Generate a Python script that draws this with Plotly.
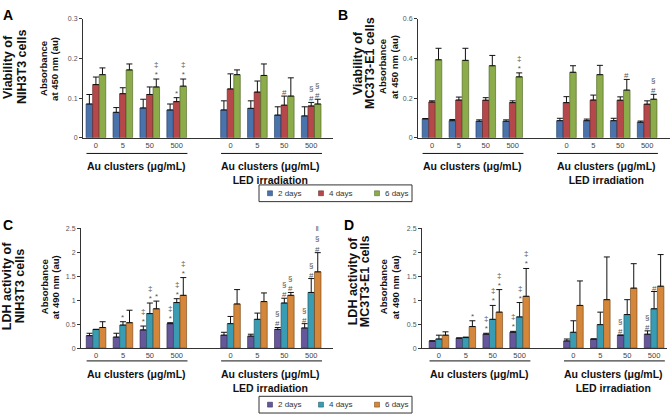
import plotly.graph_objects as go

W, H = 670, 417

# ---------------- data ----------------
conc_labels = ["0", "5", "50", "500", "0", "5", "50", "500"]
positions = [0, 1, 2, 3, 5, 6, 7, 8]
days = ["2 days", "4 days", "6 days"]

# Panel A: viability NIH3T3 (mean, upper error bar top)
A_mean = [
    [0.085, 0.064, 0.075, 0.070, 0.070, 0.074, 0.057, 0.055],
    [0.134, 0.111, 0.109, 0.091, 0.123, 0.115, 0.082, 0.080],
    [0.159, 0.171, 0.128, 0.130, 0.159, 0.157, 0.105, 0.085],
]
A_top = [
    [0.109, 0.076, 0.097, 0.085, 0.093, 0.093, 0.078, 0.078],
    [0.153, 0.126, 0.128, 0.101, 0.161, 0.143, 0.105, 0.089],
    [0.176, 0.186, 0.148, 0.148, 0.171, 0.186, 0.151, 0.097],
]
A_marks = [
    ["", "", "", "", "", "", "", ""],
    ["", "", "", "*", "", "", "#", "#§"],
    ["", "", "*‡", "*‡", "", "", "", "#§"],
]

# Panel B: viability MC3T3-E1
B_mean = [
    [0.095, 0.086, 0.083, 0.083, 0.086, 0.086, 0.086, 0.078],
    [0.180, 0.190, 0.189, 0.177, 0.177, 0.190, 0.189, 0.169],
    [0.393, 0.390, 0.363, 0.307, 0.330, 0.318, 0.240, 0.194],
]
B_top = [
    [0.097, 0.092, 0.090, 0.090, 0.098, 0.094, 0.098, 0.084],
    [0.186, 0.205, 0.202, 0.186, 0.207, 0.215, 0.206, 0.186],
    [0.451, 0.451, 0.415, 0.327, 0.363, 0.365, 0.294, 0.219],
]
B_marks = [
    ["", "", "", "", "", "", "", ""],
    ["", "", "", "", "", "", "", ""],
    ["", "", "", "*‡", "", "", "#", "#§"],
]

# Panel C: LDH NIH3T3
C_mean = [
    [0.26, 0.23, 0.38, 0.51, 0.27, 0.25, 0.39, 0.42],
    [0.39, 0.48, 0.72, 0.95, 0.51, 0.60, 0.94, 1.16],
    [0.43, 0.53, 0.82, 1.10, 0.92, 0.97, 1.10, 1.59],
]
C_top = [
    [0.31, 0.31, 0.46, 0.53, 0.33, 0.29, 0.43, 0.51],
    [0.39, 0.55, 0.94, 1.03, 0.66, 0.73, 1.04, 1.45],
    [0.55, 0.79, 0.98, 1.47, 1.22, 1.15, 1.16, 1.99],
]
C_marks = [
    ["", "", "*‡", "*‡", "", "", "#§", "#§"],
    ["", "*", "*‡", "*‡", "", "", "#§", "#§"],
    ["", "", "*", "*‡", "", "", "#§", "#§‖"],
]

# Panel D: LDH MC3T3-E1
D_mean = [
    [0.15, 0.21, 0.29, 0.33, 0.15, 0.19, 0.27, 0.29],
    [0.19, 0.22, 0.60, 0.65, 0.33, 0.49, 0.70, 0.82],
    [0.27, 0.45, 0.75, 1.08, 0.89, 1.01, 1.25, 1.29],
]
D_top = [
    [0.15, 0.21, 0.31, 0.35, 0.19, 0.19, 0.27, 0.36],
    [0.27, 0.23, 0.89, 0.95, 0.57, 0.75, 1.01, 1.18],
    [0.34, 0.57, 1.22, 1.66, 1.40, 1.90, 1.76, 1.95],
]
D_marks = [
    ["", "", "*‡", "*‡", "", "", "#§", "#§"],
    ["", "", "*‡", "*‡", "", "", "", "#"],
    ["", "*", "*‡", "*‡", "", "", "", ""],
]

colors_top = ["#4a72ab", "#b5484a", "#8cab4a"]
lines_top = ["#1f3a63", "#5e1f20", "#485e1f"]
colors_bot = ["#65579a", "#3a9cb3", "#d4863a"]
lines_bot = ["#2e2550", "#174f5c", "#6e3f12"]

BARGAP = 0.27
FONT = "Liberation Sans, Arial, sans-serif"

panels = [
    dict(key="A", mean=A_mean, top=A_top, marks=A_marks, colors=colors_top, lines=lines_top,
         xpx=(83, 333), xr=(-0.48, 8.81), ypx=(136, 15), yr=(0, 0.3),
         tickvals=[0, 0.1, 0.2, 0.3], ticktext=["0", "0.1", "0.2", "0.3"],
         letter_px=(1, 1), t1="Viability of", t2="NIH3T3 cells", t1x=8, t2x=22,
         a1="Absorbance", a2="at 450 nm (au)", a1x=44, a2x=55, tcy=64, acy=66,
         line_y=152, label_y=157),
    dict(key="B", mean=B_mean, top=B_top, marks=B_marks, colors=colors_top, lines=lines_top,
         xpx=(418, 670), xr=(-0.52, 8.85), ypx=(136, 15), yr=(0, 0.6),
         tickvals=[0, 0.2, 0.4, 0.6], ticktext=["0", "0.2", "0.4", "0.6"],
         letter_px=(336, 1), t1="Viability of", t2="MC3T3-E1 cells", t1x=358, t2x=370,
         a1="Absorbance", a2="at 450 nm (au)", a1x=383, a2x=395, tcy=60, acy=64,
         line_y=152, label_y=157),
    dict(key="C", mean=C_mean, top=C_top, marks=C_marks, colors=colors_bot, lines=lines_bot,
         xpx=(81, 333), xr=(-0.56, 8.81), ypx=(350, 228), yr=(0, 2.5),
         tickvals=[0, 0.5, 1, 1.5, 2, 2.5], ticktext=["0", "0.5", "1", "1.5", "2", "2.5"],
         letter_px=(1, 215), t1="LDH activity of", t2="NIH3T3 cells", t1x=7, t2x=20,
         a1="Absorbance", a2="at 490 nm (au)", a1x=44, a2x=55, tcy=287, acy=288,
         line_y=363, label_y=368),
    dict(key="D", mean=D_mean, top=D_top, marks=D_marks, colors=colors_bot, lines=lines_bot,
         xpx=(422, 667), xr=(-0.63, 8.48), ypx=(350, 228), yr=(0, 2.5),
         tickvals=[0, 0.5, 1, 1.5, 2, 2.5], ticktext=["0", "0.5", "1", "1.5", "2", "2.5"],
         letter_px=(342, 215), t1="LDH activity of", t2="MC3T3-E1 cells", t1x=353, t2x=365,
         a1="Absorbance", a2="at 490 nm (au)", a1x=383, a2x=395, tcy=282, acy=288,
         line_y=363, label_y=368),
]

fig = go.Figure()
annotations = []
shapes = []


def px_x(p):
    return p / W


def px_y(p):
    return 1 - p / H


bw = (1 - BARGAP) / 3

for i, P in enumerate(panels):
    n = "" if i == 0 else str(i + 1)
    xa, ya = "x" + n, "y" + n
    for k in range(3):
        plus = [t - m for t, m in zip(P["top"][k], P["mean"][k])]
        fig.add_trace(go.Bar(
            x=positions, y=P["mean"][k], name=days[k], showlegend=False,
            marker=dict(color=P["colors"][k], line=dict(color=P["lines"][k], width=0.6)),
            error_y=dict(type="data", array=plus, arrayminus=[0] * len(plus), symmetric=False,
                         color="#111111", thickness=1, width=3),
            xaxis=xa, yaxis=ya, offsetgroup=str(k),
        ))
        for j, mk in enumerate(P["marks"][k]):
            if mk:
                annotations.append(dict(
                    x=positions[j] + (k - 1) * bw, y=P["top"][k][j], xref=xa, yref=ya,
                    text="<br>".join(reversed(list(mk))), showarrow=False,
                    yanchor="bottom", xanchor="center", align="center",
                    yshift=(-1 if mk[0] == "*" else -2), borderpad=0,
                    font=dict(size=8, color="#555555", family=FONT),
                ))
    fig.layout["xaxis" + n] = dict(
        domain=[px_x(P["xpx"][0]), px_x(P["xpx"][1])], range=list(P["xr"]),
        anchor=ya, showline=True, linecolor="#333333", linewidth=1,
        tickvals=positions, ticktext=conc_labels, ticks="", showgrid=False, zeroline=False,
        tickfont=dict(size=7.5, color="#444444", family=FONT), fixedrange=True,
    )
    fig.layout["yaxis" + n] = dict(
        domain=[px_y(P["ypx"][0]), px_y(P["ypx"][1])], range=list(P["yr"]),
        anchor=xa, showline=True, linecolor="#333333", linewidth=1,
        tickvals=P["tickvals"], ticktext=P["ticktext"], ticks="outside", ticklen=3,
        tickcolor="#333333", showgrid=False, zeroline=False,
        tickfont=dict(size=7, color="#555555", family=FONT), fixedrange=True,
    )
    # group underlines and labels
    for g0, g1, label in [(0, 3, "Au clusters (μg/mL)"), (4, 7, "Au clusters (μg/mL)<br>LED irradiation")]:
        shapes.append(dict(type="line", xref=xa, yref="paper",
                           x0=positions[g0] - 0.35, x1=positions[g1] + 0.4,
                           y0=px_y(P["line_y"]), y1=px_y(P["line_y"]),
                           line=dict(color="#111111", width=1)))
        annotations.append(dict(
            x=(positions[g0] + positions[g1]) / 2, y=px_y(P["label_y"]), xref=xa, yref="paper",
            text="<b>" + label.replace("<br>", "</b><br><b>") + "</b>", showarrow=False,
            yanchor="top", xanchor="center", align="center",
            font=dict(size=10.5, color="#111111", family=FONT),
        ))
    # panel letter
    annotations.append(dict(
        x=px_x(P["letter_px"][0]), y=px_y(P["letter_px"][1]), xref="paper", yref="paper",
        text="<b>" + P["key"] + "</b>", showarrow=False, xanchor="left", yanchor="top",
        font=dict(size=14, color="#000000", family=FONT),
    ))
    # rotated titles
    for txt, cx, cy, size in [(P["t1"], P["t1x"], P["tcy"], 12.5), (P["t2"], P["t2x"], P["tcy"], 12.5),
                              (P["a1"], P["a1x"], P["acy"], 9.5), (P["a2"], P["a2x"], P["acy"], 9.5)]:
        annotations.append(dict(
            x=px_x(cx), y=px_y(cy), xref="paper", yref="paper", text="<b>" + txt + "</b>",
            textangle=-90, showarrow=False, xanchor="center", yanchor="middle",
            font=dict(size=size, color="#111111", family=FONT),
        ))

# ---------------- manual legends ----------------
legend_specs = [
    dict(box=(259, 184, 412, 201), colors=colors_top, lines=lines_top),
    dict(box=(259, 399, 412, 416), colors=colors_bot, lines=lines_bot),
]
item_x = [270, 321, 377]
for L in legend_specs:
    x0, y0, x1, y1 = L["box"]
    shapes.append(dict(type="rect", xref="paper", yref="paper",
                       x0=px_x(x0), x1=px_x(x1), y0=px_y(y1), y1=px_y(y0),
                       line=dict(color="#333333", width=1), fillcolor="white"))
    cy = (y0 + y1) / 2
    for k in range(3):
        sx = item_x[k]
        shapes.append(dict(type="rect", xref="paper", yref="paper",
                           x0=px_x(sx - 2.5), x1=px_x(sx + 2.5), y0=px_y(cy + 2.5), y1=px_y(cy - 2.5),
                           line=dict(color=L["lines"][k], width=0.5), fillcolor=L["colors"][k]))
        annotations.append(dict(
            x=px_x(sx + 6), y=px_y(cy), xref="paper", yref="paper", text=days[k],
            showarrow=False, xanchor="left", yanchor="middle",
            font=dict(size=8, color="#333333", family=FONT),
        ))

fig.update_layout(
    width=W, height=H, margin=dict(l=0, r=0, t=0, b=0),
    paper_bgcolor="white", plot_bgcolor="white",
    barmode="group", bargap=BARGAP, bargroupgap=0,
    annotations=annotations, shapes=shapes, showlegend=False,
    font=dict(family=FONT),
)

fig.write_html("out.html", config={"displayModeBar": False, "staticPlot": True},
               post_script="document.body.style.margin='0px';document.body.style.overflow='hidden';")
